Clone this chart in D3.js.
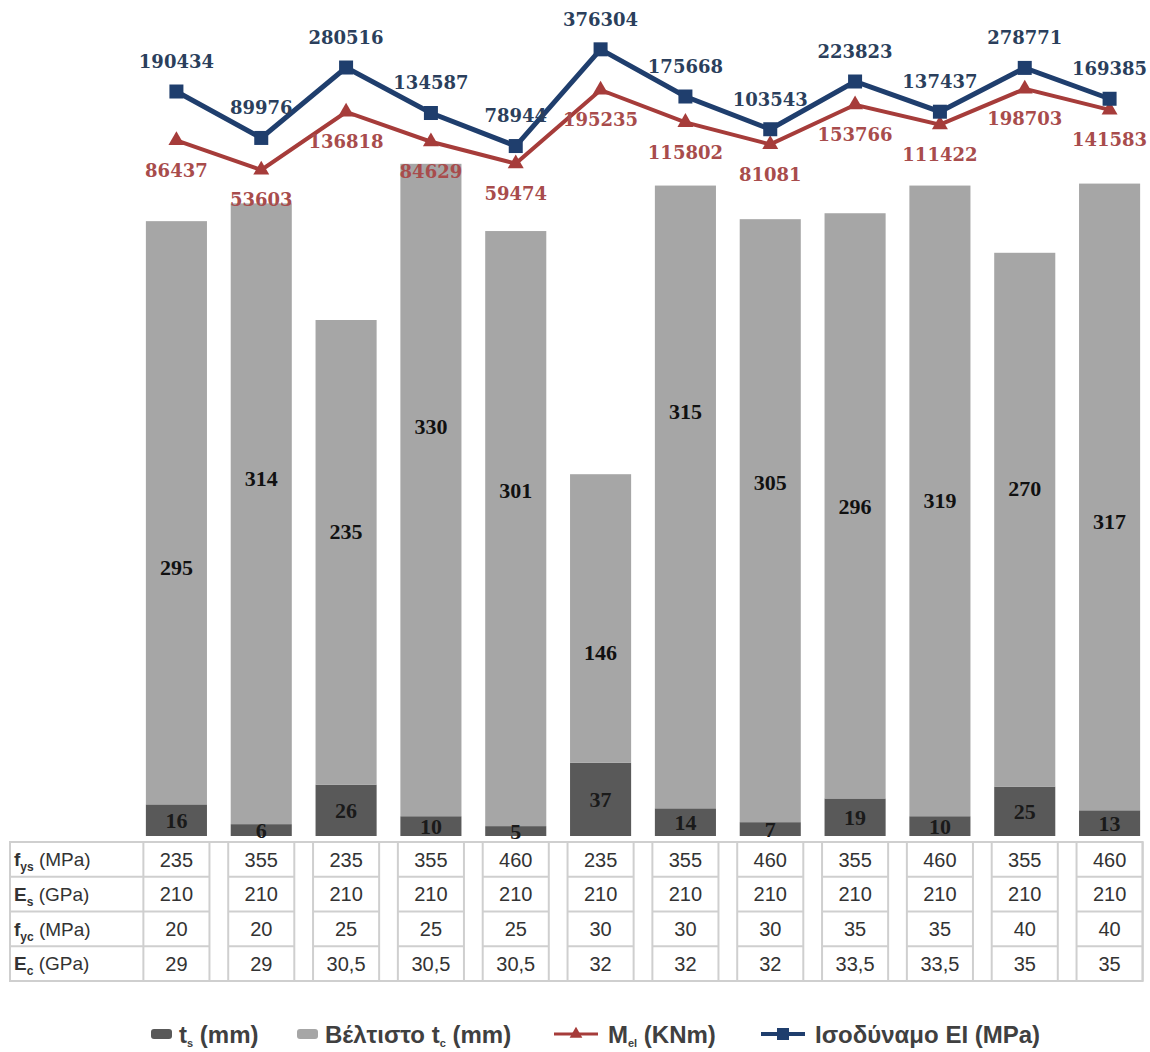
<!DOCTYPE html>
<html><head><meta charset="utf-8">
<script src="https://cdn.jsdelivr.net/npm/d3@7"></script>
<style>body{margin:0;background:#fff}svg{display:block}</style>
</head><body>
<script>
// ---- data ----
const categories = ["1","2","3","4","5","6","7","8","9","10","11","12"];
const ts = [16, 6, 26, 10, 5, 37, 14, 7, 19, 10, 25, 13];
const tc = [295, 314, 235, 330, 301, 146, 315, 305, 296, 319, 270, 317];
const tcLabelAt = [136, 181, 154, 207, 175, 93, 215, 179, 167, 170, 176, 159];
const Mel = [86437, 53603, 136818, 84629, 59474, 195235, 115802, 81081, 153766, 111422, 198703, 141583];
const EI = [190434, 89976, 280516, 134587, 78944, 376304, 175668, 103543, 223823, 137437, 278771, 169385];
const fys = ["235","355","235","355","460","235","355","460","355","460","355","460"];
const Es = ["210","210","210","210","210","210","210","210","210","210","210","210"];
const fyc = ["20","20","25","25","25","30","30","30","35","35","40","40"];
const Ec = ["29","29","30,5","30,5","30,5","32","32","32","33,5","33,5","35","35"];
const rowLabels = [
  {main:"f", sub:"ys", unit:" (MPa)"},
  {main:"E", sub:"s", unit:" (GPa)"},
  {main:"f", sub:"yc", unit:" (MPa)"},
  {main:"E", sub:"c", unit:" (GPa)"}
];
const tableRows = [fys, Es, fyc, Ec];
const legendItems = [
  {type:"bar", key:"dark", main:"t", sub:"s", unit:" (mm)"},
  {type:"bar", key:"light", main:"Βέλτιστο t", sub:"c", unit:" (mm)"},
  {type:"line", key:"red", main:"M", sub:"el", unit:" (KNm)"},
  {type:"line", key:"blue", main:"Ισοδύναμο EI (MPa)", sub:"", unit:""}
];

// ---- styles ----
const C = {dark:"#595959", light:"#a6a6a6", red:"#a63c3a", redText:"#a84c4c", blue:"#1f3e6d", blueText:"#2b3f5c", grid:"#cfcfcf", text:"#333"};
const W = 1150, H = 1052;

const svg = d3.select("body").append("svg").attr("width", W).attr("height", H);

const x = d3.scaleBand().domain(categories).range([134, 1152]).paddingInner(0.28).paddingOuter(0.14);
const bw = x.bandwidth();
const yBar = d3.scaleLinear().domain([0, 400]).range([836, 836 - 400 * 1.977]);
const yLine = d3.scaleLog().domain([1, 1e6]).range([844.4, -11.2]);

// ---- stacked bars ----
const stackData = categories.map((c, i) => ({c, ts: ts[i], tc: tc[i]}));
const series = d3.stack().keys(["ts", "tc"])(stackData);
const colorKey = {ts: C.dark, tc: C.light};
svg.append("g").selectAll("g").data(series).join("g")
  .attr("fill", d => colorKey[d.key])
  .selectAll("rect").data(d => d).join("rect")
  .attr("x", d => x(d.data.c)).attr("width", bw)
  .attr("y", d => yBar(d[1])).attr("height", d => yBar(d[0]) - yBar(d[1]));

const barFont = "'Liberation Serif','Times New Roman',serif";
svg.append("g").selectAll("text").data(stackData).join("text")
  .attr("x", d => x(d.c) + bw / 2).attr("y", d => yBar(d.ts / 2))
  .attr("dy", "0.35em").attr("text-anchor", "middle")
  .attr("font-family", barFont).attr("font-weight", "bold").attr("font-size", 22)
  .attr("fill", "#1a1a1a").text(d => d.ts);
svg.append("g").selectAll("text").data(stackData).join("text")
  .attr("x", d => x(d.c) + bw / 2).attr("y", (d, i) => yBar(tcLabelAt[i]))
  .attr("dy", "0.35em").attr("text-anchor", "middle")
  .attr("font-family", barFont).attr("font-weight", "bold").attr("font-size", 22)
  .attr("fill", "#111").text(d => d.tc);

// ---- lines ----
const cx = c => x(c) + bw / 2;
const lineGen = d3.line().x(d => cx(d.c)).y(d => yLine(d.v));
const redData = categories.map((c, i) => ({c, v: Mel[i]}));
const blueData = categories.map((c, i) => ({c, v: EI[i]}));

svg.append("path").datum(redData).attr("d", lineGen).attr("fill", "none")
  .attr("stroke", C.red).attr("stroke-width", 4).attr("stroke-linejoin", "miter");
svg.append("g").selectAll("path").data(redData).join("path")
  .attr("d", d3.symbol(d3.symbolTriangle, 110)())
  .attr("transform", d => `translate(${cx(d.c)},${yLine(d.v)})`)
  .attr("fill", C.red);

svg.append("path").datum(blueData).attr("d", lineGen).attr("fill", "none")
  .attr("stroke", C.blue).attr("stroke-width", 5).attr("stroke-linejoin", "miter");
svg.append("g").selectAll("rect").data(blueData).join("rect")
  .attr("x", d => cx(d.c) - 7).attr("y", d => yLine(d.v) - 7)
  .attr("width", 14).attr("height", 14).attr("fill", C.blue);

const lblFont = "'DejaVu Serif',serif";
svg.append("g").selectAll("text").data(blueData).join("text")
  .attr("x", d => cx(d.c)).attr("y", d => yLine(d.v) - 30).attr("dy", "0.35em")
  .attr("text-anchor", "middle").attr("font-family", lblFont).attr("font-weight", "bold")
  .attr("font-size", 18).attr("fill", C.blueText).text(d => d.v);
svg.append("g").selectAll("text").data(redData).join("text")
  .attr("x", d => cx(d.c)).attr("y", d => yLine(d.v) + 30).attr("dy", "0.35em")
  .attr("text-anchor", "middle").attr("font-family", lblFont).attr("font-weight", "bold")
  .attr("font-size", 18).attr("fill", C.redText).text(d => d.v);

// ---- data table ----
const tTop = 842, rowH = 34.75, nRows = 4, tLeft = 10, pad = 2.5;
const tBot = tTop + rowH * nRows;
const tg = svg.append("g").attr("stroke", C.grid).attr("stroke-width", 2).attr("fill", "none");
const cellL = c => x(c) - pad, cellR = c => x(c) + bw + pad;
tg.append("rect").attr("x", tLeft).attr("y", tTop).attr("width", cellR(categories[categories.length-1]) - tLeft).attr("height", tBot - tTop);
const vx = [];
categories.forEach(c => { vx.push(cellL(c)); vx.push(cellR(c)); });
tg.selectAll("line.v").data(vx).join("line").attr("class", "v")
  .attr("x1", d => d).attr("x2", d => d).attr("y1", tTop).attr("y2", tBot);
const spans = [[tLeft, cellL(categories[0])]].concat(categories.map(c => [cellL(c), cellR(c)]));
for (let r = 1; r < nRows; r++) {
  const yy = tTop + r * rowH;
  tg.append("g").selectAll("line").data(spans).join("line")
    .attr("x1", d => d[0]).attr("x2", d => d[1]).attr("y1", yy).attr("y2", yy);
}
const tableFont = "'Liberation Sans',Arial,sans-serif";
rowLabels.forEach((rl, r) => {
  const t = svg.append("text").attr("x", 14).attr("y", tTop + rowH * (r + 0.5)).attr("dy", "0.36em")
    .attr("font-family", tableFont).attr("font-size", 19).attr("fill", C.text);
  t.append("tspan").attr("font-weight", "bold").text(rl.main);
  t.append("tspan").attr("font-weight", "bold").attr("font-size", 12).attr("dy", 5).text(rl.sub);
  t.append("tspan").attr("dy", -5).text(rl.unit);
});
tableRows.forEach((row, r) => {
  svg.append("g").selectAll("text").data(row).join("text")
    .attr("x", (d, i) => x(categories[i]) + bw / 2)
    .attr("y", tTop + rowH * (r + 0.5)).attr("dy", "0.36em")
    .attr("text-anchor", "middle").attr("font-family", tableFont).attr("font-size", 20)
    .attr("fill", C.text).text(d => d);
});

// ---- legend ----
const legX = [151, 297, 554, 761];
const legY = 1034;
const lg = svg.append("g");
legendItems.forEach((it, i) => {
  const g = lg.append("g").attr("transform", `translate(${legX[i]},${legY})`);
  let tx;
  if (it.type === "bar") {
    g.append("rect").attr("x", 0).attr("y", -5).attr("width", 21).attr("height", 10).attr("rx", 3)
      .attr("fill", it.key === "dark" ? C.dark : C.light);
    tx = 28;
  } else {
    const col = it.key === "red" ? C.red : C.blue;
    g.append("line").attr("x1", 0).attr("x2", 44).attr("y1", 0).attr("y2", 0)
      .attr("stroke", col).attr("stroke-width", it.key === "red" ? 3 : 4);
    if (it.key === "red") g.append("path").attr("d", d3.symbol(d3.symbolTriangle, 70)()).attr("transform", "translate(22,0)").attr("fill", col);
    else g.append("rect").attr("x", 16).attr("y", -6).attr("width", 12).attr("height", 12).attr("fill", col);
    tx = 54;
  }
  const t = g.append("text").attr("x", tx).attr("y", 0).attr("dy", "0.36em")
    .attr("font-family", "'Liberation Sans',Arial,sans-serif")
    .attr("font-weight", "bold").attr("font-size", 24).attr("fill", "#404040");
  t.append("tspan").text(it.main);
  if (it.sub) {
    t.append("tspan").attr("font-size", 11).attr("dy", 4).text(it.sub);
    t.append("tspan").attr("dy", -4).text(it.unit);
  }
});
</script>
</body></html>
